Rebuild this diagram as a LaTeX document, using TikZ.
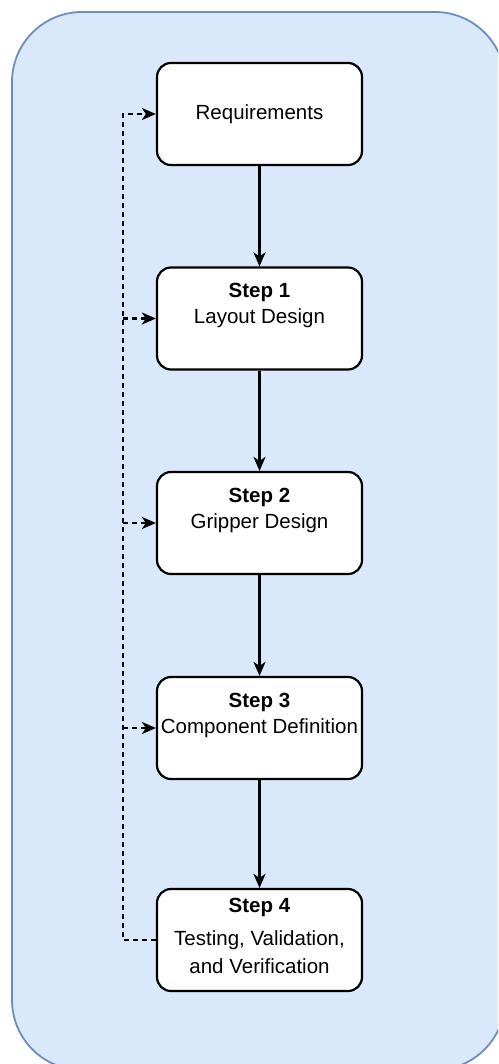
\documentclass[tikz,border=0pt]{standalone}
\usepackage{fontspec}
\setmainfont{Liberation Sans}
\usetikzlibrary{arrows.meta}
\definecolor{panelfill}{HTML}{DAE8FC}
\definecolor{paneldraw}{HTML}{6C8EBF}
\begin{document}
\begin{tikzpicture}[x=1pt,y=-1pt,
  font=\fontsize{20.5pt}{26pt}\selectfont,
  stagebox/.style={draw=black, line width=2.2pt, fill=white, rounded corners=14pt,
    minimum width=205pt, minimum height=102pt, inner sep=0pt},
  head/.style={-{Stealth[length=14pt,width=12pt,inset=4pt]}},
  flow/.style={head, line width=2.2pt},
  loopback/.style={head, line width=2.1pt, dash pattern=on 5pt off 4pt},
  txt/.style={inner sep=0pt, anchor=center},
  bold/.style={txt, font=\fontsize{20.5pt}{26pt}\selectfont\bfseries},
]
\useasboundingbox (0,0) rectangle (498,1064);
\clip (0,0) rectangle (498,1064);

% background panel
\path[draw=paneldraw, fill=panelfill, line width=1.8pt, rounded corners=70pt]
  (12,12) rectangle (505,1070);

% process stages
\node[stagebox] (req) at (259.5,114) {};
\node[txt] (reqt) at (req.center) {Requirements};

\node[stagebox] (s1) at (259.5,318.5) {};
\node[bold] (s1a) at (259.5,292) {Step 1};
\node[txt] (s1b) at (259.5,318.5) {Layout Design};

\node[stagebox] (s2) at (259.5,523) {};
\node[bold] (s2a) at (259.5,497) {Step 2};
\node[txt] (s2b) at (259.5,523) {Gripper Design};

\node[stagebox] (s3) at (259.5,728) {};
\node[bold] (s3a) at (259.5,702) {Step 3};
\node[txt] (s3b) at (259.5,728) {Component Definition};

\node[stagebox] (s4) at (259.5,940) {};
\node[bold] (s4a) at (259.5,907) {Step 4};
\node[txt] (s4b) at (259.5,940) {Testing, Validation,};
\node[txt] (s4c) at (259.5,966) {and Verification};

% main flow
\draw[flow] (req.south) -- (s1.north);
\draw[flow] (s1.south) -- (s2.north);
\draw[flow] (s2.south) -- (s3.north);
\draw[flow] (s3.south) -- (s4.north);

% feedback loop
\coordinate (fb) at (123,940);
\draw[loopback] (s4.west) -- (fb) |- (req.west);
\draw[loopback] (fb |- s1.west) -- (s1.west);
\draw[loopback] (fb |- s2.west) -- (s2.west);
\draw[loopback] (fb |- s3.west) -- (s3.west);
\end{tikzpicture}
\end{document}
